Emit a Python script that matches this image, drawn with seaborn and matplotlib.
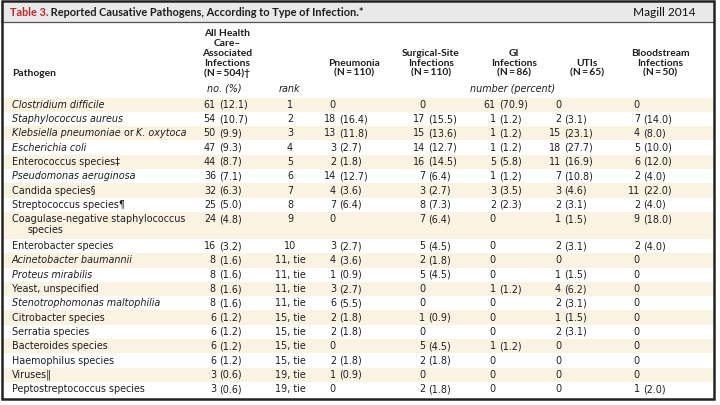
import matplotlib
matplotlib.use("Agg")
import matplotlib.pyplot as plt
import seaborn as sns
from matplotlib.patches import Rectangle

# ---------------- data ----------------
pathogens = ["Clostridium difficile", "Staphylococcus aureus",
             "Klebsiella pneumoniae or K. oxytoca", "Escherichia coli",
             "Enterococcus species\u2021", "Pseudomonas aeruginosa",
             "Candida species\u00a7", "Streptococcus species\u00b6",
             "Coagulase-negative staphylococcus\nspecies", "Enterobacter species",
             "Acinetobacter baumannii", "Proteus mirabilis", "Yeast, unspecified",
             "Stenotrophomonas maltophilia", "Citrobacter species", "Serratia species",
             "Bacteroides species", "Haemophilus species", "Viruses\u2016",
             "Peptostreptococcus species"]
name_style = ["italic", "italic", "mixed", "italic", "normal", "italic", "normal",
              "normal", "normal", "normal", "italic", "italic", "normal", "italic",
              "normal", "normal", "normal", "normal", "normal", "normal"]
all_n = [61, 54, 50, 47, 44, 36, 32, 25, 24, 16, 8, 8, 8, 8, 6, 6, 6, 6, 3, 3]
all_pct = [12.1, 10.7, 9.9, 9.3, 8.7, 7.1, 6.3, 5.0, 4.8, 3.2, 1.6, 1.6, 1.6, 1.6,
           1.2, 1.2, 1.2, 1.2, 0.6, 0.6]
ranks = ["1", "2", "3", "4", "5", "6", "7", "8", "9", "10", "11, tie", "11, tie",
         "11, tie", "11, tie", "15, tie", "15, tie", "15, tie", "15, tie", "19, tie", "19, tie"]
pneu_n = [0, 18, 13, 3, 2, 14, 4, 7, 0, 3, 4, 1, 3, 6, 2, 2, 0, 2, 1, 0]
pneu_pct = [None, 16.4, 11.8, 2.7, 1.8, 12.7, 3.6, 6.4, None, 2.7, 3.6, 0.9, 2.7, 5.5,
            1.8, 1.8, None, 1.8, 0.9, None]
ssi_n = [0, 17, 15, 14, 16, 7, 3, 8, 7, 5, 2, 5, 0, 0, 1, 0, 5, 2, 0, 2]
ssi_pct = [None, 15.5, 13.6, 12.7, 14.5, 6.4, 2.7, 7.3, 6.4, 4.5, 1.8, 4.5, None, None,
           0.9, None, 4.5, 1.8, None, 1.8]
gi_n = [61, 1, 1, 1, 5, 1, 3, 2, 0, 0, 0, 0, 1, 0, 0, 0, 1, 0, 0, 0]
gi_pct = [70.9, 1.2, 1.2, 1.2, 5.8, 1.2, 3.5, 2.3, None, None, None, None, 1.2, None,
          None, None, 1.2, None, None, None]
uti_n = [0, 2, 15, 18, 11, 7, 3, 2, 1, 2, 0, 1, 4, 2, 1, 2, 0, 0, 0, 0]
uti_pct = [None, 3.1, 23.1, 27.7, 16.9, 10.8, 4.6, 3.1, 1.5, 3.1, None, 1.5, 6.2, 3.1,
           1.5, 3.1, None, None, None, None]
bsi_n = [0, 7, 4, 5, 6, 2, 11, 2, 9, 2, 0, 0, 0, 0, 0, 0, 0, 0, 0, 1]
bsi_pct = [None, 14.0, 8.0, 10.0, 12.0, 4.0, 22.0, 4.0, 18.0, 4.0, None, None, None, None,
           None, None, None, None, None, 2.0]

col_headers = ["All Health\nCare\u2013\nAssociated\nInfections\n(N\u2009=\u2009504)\u2020",
               "Pneumonia\n(N\u2009=\u2009110)", "Surgical-Site\nInfections\n(N\u2009=\u2009110)",
               "GI\nInfections\n(N\u2009=\u200986)", "UTIs\n(N\u2009=\u200965)",
               "Bloodstream\nInfections\n(N\u2009=\u200950)"]
title_prefix = "Table 3."
title_rest = " Reported Causative Pathogens, According to Type of Infection.*"
source_label = "Magill 2014"

# ---------------- style ----------------
sns.set_theme(style="white")
plt.rcParams['font.family'] = ['DejaVu Sans']
TXT = "#1e1e1e"
CREAM = "#fbf3e1"
FS = 6.9
BOLD_FAM = ["Lato", "DejaVu Sans"]

fig = plt.figure(figsize=(7.2, 4.05), dpi=100)
ax = fig.add_axes([0, 0, 1, 1])
ax.set_xlim(0, 720)
ax.set_ylim(405, 0)
ax.axis("off")
renderer = fig.canvas.get_renderer()


def width_of(t):
    bb = t.get_window_extent(renderer=renderer)
    return bb.width


# title bar
ax.add_patch(Rectangle((1, 1), 713, 21, facecolor="#e9e9e9", edgecolor="none", zorder=0))
ax.plot([1, 714], [22, 22], color="#555555", lw=0.9, zorder=2)

# row geometry
row_top = 97.5
row_h = 14.3
tops, heights = [], []
y = row_top
for nm in pathogens:
    h = 27.0 if "\n" in nm else row_h
    tops.append(y)
    heights.append(h)
    y += h

for i, (tp, h) in enumerate(zip(tops, heights)):
    if i % 2 == 0:
        ax.add_patch(Rectangle((3, tp), 710, h, facecolor=CREAM, edgecolor="none", zorder=0))

# outer frame
ax.add_patch(Rectangle((1.5, 0.8), 712.5, 398.2, facecolor="none", edgecolor="#222222",
                       lw=1.8, zorder=5))

# title
t = ax.text(10, 12, title_prefix, color="#c0282d", fontsize=7.9, fontweight="bold",
            family=BOLD_FAM, ha="left", va="center")
ax.text(10 + width_of(t), 12, title_rest, color=TXT, fontsize=7.9, fontweight="bold",
        family=BOLD_FAM, ha="left", va="center")
ax.text(633, 13, source_label, color="#111111", fontsize=8.6, family=["Lato", "DejaVu Sans"],
        ha="left", va="center")

# headers
ax.text(12, 73, "Pathogen", fontsize=7.4, fontweight="bold", family=BOLD_FAM, color=TXT,
        ha="left", va="center")
header_x = [227, 354, 431, 514, 587, 660]
line_gap = 10.0
for hx, hd in zip(header_x, col_headers):
    lines = hd.split("\n")
    n = len(lines)
    for k, ln in enumerate(lines):
        yy = 73 - (n - 1 - k) * line_gap
        ax.text(hx, yy, ln, fontsize=7.4, fontweight="bold", family=BOLD_FAM, color=TXT,
                ha="center", va="center")

ax.text(224, 88.5, "no. (%)", fontsize=FS, style="italic", color=TXT, ha="center", va="center")
ax.text(289, 88.5, "rank", fontsize=FS, style="italic", color=TXT, ha="center", va="center")
ax.text(513, 88.5, "number (percent)", fontsize=FS, style="italic", color=TXT,
        ha="center", va="center")

# body
count_right = [216, 336, 425, 496, 561, 640]
columns = [(all_n, all_pct), (pneu_n, pneu_pct), (ssi_n, ssi_pct), (gi_n, gi_pct),
           (uti_n, uti_pct), (bsi_n, bsi_pct)]

for i, nm in enumerate(pathogens):
    yc = tops[i] + 7.2
    st = name_style[i]
    if "\n" in nm:
        l1, l2 = nm.split("\n")
        ax.text(12, yc, l1, fontsize=FS, color=TXT, ha="left", va="center")
        ax.text(28, yc + 10.5, l2, fontsize=FS, color=TXT, ha="left", va="center")
    elif st == "mixed":
        a, b = nm.split(" or ")
        x = 12
        for seg, sty in [(a, "italic"), (" or ", "normal"), (b, "italic")]:
            tt = ax.text(x, yc, seg, fontsize=FS, style=sty, color=TXT, ha="left", va="center")
            x += width_of(tt)
    else:
        ax.text(12, yc, nm, fontsize=FS, style=st, color=TXT, ha="left", va="center")

    ax.text(290, yc, ranks[i], fontsize=FS, color=TXT, ha="center", va="center")

    for (ns, ps), xr in zip(columns, count_right):
        n = ns[i]
        p = ps[i]
        ax.text(xr, yc, str(n), fontsize=FS, color=TXT, ha="right", va="center")
        if p is not None:
            ax.text(xr + 3.5, yc, f"({p:.1f})", fontsize=FS, color=TXT, ha="left", va="center")

fig.savefig("out.png", dpi=100, facecolor="white")
